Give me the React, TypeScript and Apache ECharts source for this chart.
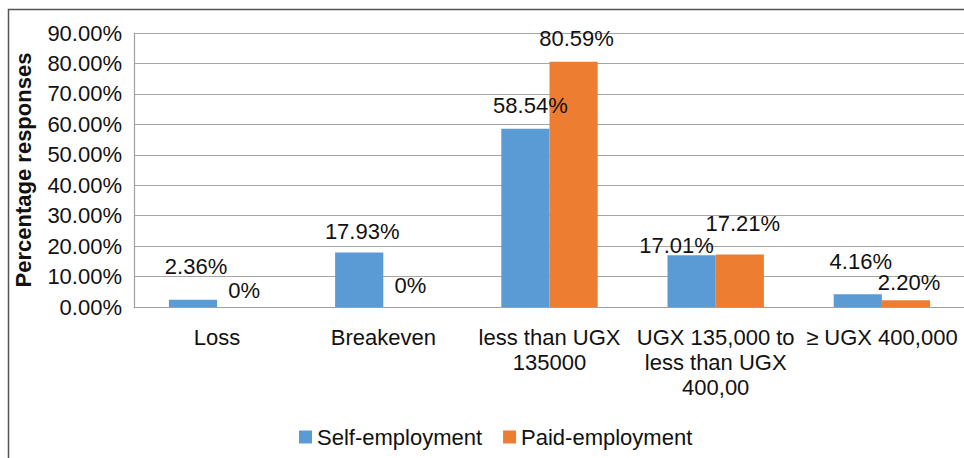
import React, { useEffect, useRef } from "react";
import * as echarts from "echarts";

const categories = [
  "Loss",
  "Breakeven",
  "less than UGX\n135000",
  "UGX 135,000 to\nless than UGX\n400,00",
  "≥ UGX 400,000",
];
const seriesNames = ["Self-employment", "Paid-employment"];
const selfEmployment = [2.36, 17.93, 58.54, 17.01, 4.16];
const paidEmployment = [0, 0, 80.59, 17.21, 2.2];
const selfLabels = ["2.36%", "17.93%", "58.54%", "17.01%", "4.16%"];
const paidLabels = ["0%", "0%", "80.59%", "17.21%", "2.20%"];
const yTicks = [0, 10, 20, 30, 40, 50, 60, 70, 80, 90];

// label nudges (styling only)
const selfLabelOffsets = [[3, -11], [3, 1], [5, -1], [-15, 12], [3, -11]];
const paidLabelOffsets = [[3, 5], [3, 0], [3, -1], [3, -9], [3, 4]];

const FONT = "'Liberation Sans', Arial, sans-serif";
const FS = 22;

export default function App() {
  const ref = useRef<HTMLDivElement>(null);
  useEffect(() => {
    if (!ref.current) return;
    const chart = echarts.init(ref.current, undefined, { renderer: "svg" });
    const mk = (vals: number[], labels: string[], offs: number[][]) =>
      vals.map((v, i) => ({
        value: v,
        label: { formatter: labels[i], offset: offs[i] },
      }));
    chart.setOption({
      animation: false,
      backgroundColor: "#ffffff",
      textStyle: { fontFamily: FONT },
      graphic: [
        {
          type: "rect",
          shape: { x: 8.5, y: 9.5, width: 1100, height: 600 },
          style: { fill: "none", stroke: "#555555", lineWidth: 1.5 },
          silent: true,
          z: -1,
        },
      ],
      legend: {
        left: 299,
        top: 426,
        padding: 0,
        itemWidth: 13,
        itemHeight: 13,
        itemGap: 21,
        icon: "rect",
        textStyle: { fontSize: FS, color: "#111", fontFamily: FONT },
        data: seriesNames,
      },
      grid: {
        left: 134,
        top: 33,
        width: 831,
        height: 274,
        containLabel: false,
        outerBoundsMode: "none",
      },
      xAxis: {
        type: "category",
        data: categories,
        axisLine: { lineStyle: { color: "#a0a0a0", width: 1.2 } },
        axisTick: { show: false },
        axisLabel: {
          interval: 0,
          fontSize: FS,
          color: "#111",
          margin: 18,
          lineHeight: 25,
          fontFamily: FONT,
          hideOverlap: false,
        },
      },
      yAxis: {
        type: "value",
        min: 0,
        max: 90,
        interval: 10,
        name: "Percentage responses",
        nameLocation: "middle",
        nameGap: 100,
        nameTextStyle: { fontSize: 22, fontWeight: "bold", color: "#111", fontFamily: FONT },
        axisLine: { show: true, lineStyle: { color: "#a0a0a0", width: 1.2 } },
        axisTick: { show: false },
        splitLine: { lineStyle: { color: "#a6a6a6", width: 1.2 } },
        axisLabel: {
          fontSize: FS,
          color: "#111",
          margin: 12,
          fontFamily: FONT,
          formatter: (v: number) => (yTicks.includes(v) ? v.toFixed(2) + "%" : ""),
        },
      },
      series: [
        {
          name: seriesNames[0],
          type: "bar",
          data: mk(selfEmployment, selfLabels, selfLabelOffsets),
          itemStyle: { color: "#5B9BD5" },
          barGap: "0%",
          barCategoryGap: "42%",
          label: {
            show: true,
            position: "top",
            distance: 11,
            fontSize: FS,
            color: "#111",
            fontFamily: FONT,
          },
        },
        {
          name: seriesNames[1],
          type: "bar",
          data: mk(paidEmployment, paidLabels, paidLabelOffsets),
          itemStyle: { color: "#ED7D31" },
          barGap: "0%",
          barCategoryGap: "42%",
          label: {
            show: true,
            position: "top",
            distance: 11,
            fontSize: FS,
            color: "#111",
            fontFamily: FONT,
          },
        },
      ],
    });
    return () => chart.dispose();
  }, []);
  return (
    <div
      ref={ref}
      style={{ position: "absolute", left: 0, top: 0, width: 964, height: 458, overflow: "hidden" }}
    />
  );
}
